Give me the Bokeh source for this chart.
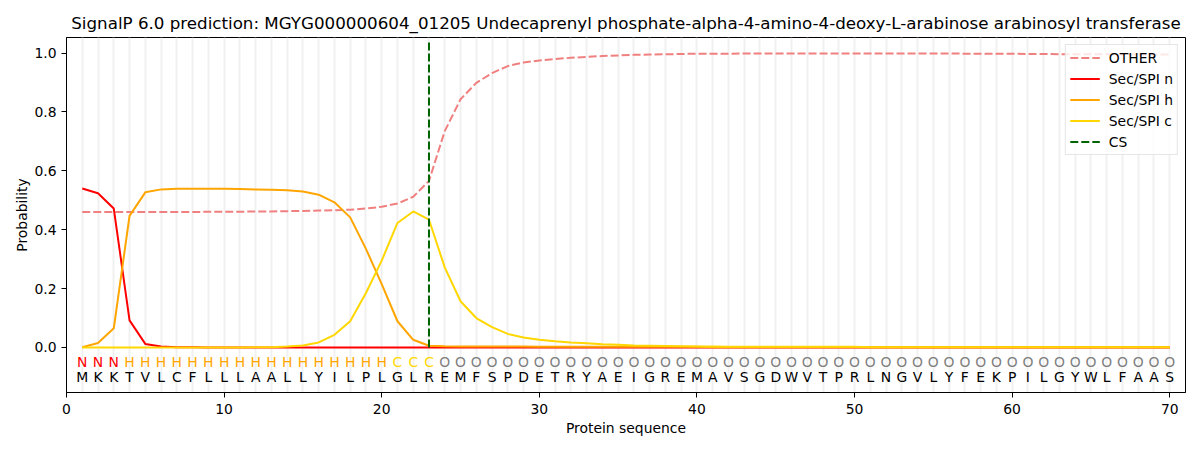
from bokeh.plotting import figure
from bokeh.models import ColumnDataSource, NumeralTickFormatter
from bokeh.core.properties import value
from bokeh.embed import file_html
from bokeh.resources import INLINE

# per-residue data
positions = list(range(1, 71))
sequence = list("MKKTVLCFLLLAALLYILPLGLREMFSPDETRYAEIGREMAVSGDWVTPRLNGVLYFEKPILGYWLFAAS")
region = list("NNN" + "H" * 17 + "CCC" + "O" * 47)

other = [0.460, 0.460, 0.460, 0.460, 0.460, 0.460, 0.460, 0.460, 0.461, 0.461,
         0.461, 0.462, 0.462, 0.463, 0.464, 0.465, 0.466, 0.468, 0.472, 0.478,
         0.489, 0.512, 0.566, 0.735, 0.843, 0.899, 0.932, 0.956, 0.968, 0.975,
         0.980, 0.984, 0.987, 0.990, 0.992, 0.994, 0.995, 0.996, 0.997, 0.998,
         0.998, 0.998, 0.999, 0.999, 0.999, 0.999, 0.999, 0.999, 0.999, 0.999,
         0.999, 0.999, 0.999, 0.999, 0.999, 0.999, 0.998, 0.998, 0.998, 0.998,
         0.997, 0.997, 0.996, 0.996, 0.996, 0.996, 0.995, 0.995, 0.995, 0.995]
sp_n = [0.540, 0.524, 0.472, 0.092, 0.012, 0.003, 0.001, 0.001] + [0.0] * 62
sp_h = [0.001, 0.015, 0.065, 0.447, 0.527, 0.537, 0.539, 0.539, 0.539, 0.539,
        0.538, 0.537, 0.536, 0.534, 0.530, 0.519, 0.493, 0.442, 0.335, 0.215,
        0.089, 0.026, 0.006, 0.004, 0.003, 0.003, 0.003, 0.003, 0.003, 0.002,
        0.002, 0.002, 0.002, 0.002, 0.002, 0.002, 0.002, 0.002, 0.002, 0.002,
        0.001, 0.001, 0.001, 0.001, 0.001, 0.001, 0.001, 0.001, 0.001, 0.001,
        0.001, 0.001, 0.001, 0.001, 0.001, 0.001, 0.001, 0.001, 0.001, 0.001,
        0.001, 0.001, 0.001, 0.001, 0.001, 0.001, 0.001, 0.001, 0.001, 0.001]
sp_c = [0.0, 0.0, 0.0, 0.0, 0.0, 0.0, 0.0, 0.0, 0.0, 0.0,
        0.0, 0.001, 0.001, 0.003, 0.007, 0.017, 0.043, 0.089, 0.185, 0.295,
        0.423, 0.462, 0.434, 0.272, 0.157, 0.100, 0.069, 0.046, 0.034, 0.026,
        0.021, 0.017, 0.014, 0.011, 0.009, 0.007, 0.006, 0.005, 0.004, 0.003,
        0.003, 0.002, 0.002, 0.002, 0.002, 0.002, 0.002, 0.002, 0.002, 0.002,
        0.001, 0.001, 0.001, 0.001, 0.001, 0.001, 0.001, 0.001, 0.001, 0.001,
        0.001, 0.001, 0.001, 0.001, 0.001, 0.001, 0.001, 0.001, 0.001, 0.001]
cs_pos = 23
cs_top = 1.04

region_colors = {"N": "red", "H": "orange", "C": "gold", "O": "grey"}

font = "DejaVu Sans"
p = figure(width=1192, height=442, x_range=(0, 71), y_range=(-0.153, 1.053),
           title="SignalP 6.0 prediction: MGYG000000604_01205 Undecaprenyl phosphate-alpha-4-amino-4-deoxy-L-arabinose arabinosyl transferase",
           x_axis_label="Protein sequence", y_axis_label="Probability",
           output_backend="svg", toolbar_location=None,
           min_border_left=66, min_border_right=7, min_border_top=37, min_border_bottom=50)

p.title.align = "center"
p.title.text_font = font
p.title.text_font_size = "16.7px"
p.title.text_font_style = "normal"
p.title.text_color = "black"

p.outline_line_color = "black"
p.outline_line_width = 1
p.ygrid.grid_line_color = None
p.xgrid.ticker = positions
p.xgrid.grid_line_color = "#f0f0f0"
p.xgrid.grid_line_width = 2

p.xaxis.ticker = list(range(0, 71, 10))
p.yaxis.ticker = [0.0, 0.2, 0.4, 0.6, 0.8, 1.0]
p.yaxis.formatter = NumeralTickFormatter(format="0.0")
for ax in p.axis:
    ax.major_label_text_font = font
    ax.major_label_text_font_size = "13.9px"
    ax.major_label_text_color = "black"
    ax.axis_label_text_font = font
    ax.axis_label_text_font_size = "13.9px"
    ax.axis_label_text_font_style = "normal"
    ax.axis_label_text_color = "black"
    ax.axis_line_color = "black"
    ax.major_tick_line_color = "black"
    ax.major_tick_in = 0
    ax.major_tick_out = 5
    ax.minor_tick_in = 0
    ax.minor_tick_out = 0
p.xaxis.major_label_standoff = 6
p.xaxis.axis_label_standoff = 3
p.yaxis.axis_label_standoff = 1

p.line(positions, other, color="lightcoral", line_width=2, line_dash="8 3", legend_label="OTHER")
p.line(positions, sp_n, color="red", line_width=2, legend_label="Sec/SPI n")
p.line(positions, sp_h, color="orange", line_width=2, legend_label="Sec/SPI h")
p.line(positions, sp_c, color="gold", line_width=2, legend_label="Sec/SPI c")
p.segment(x0=[cs_pos], y0=[0], x1=[cs_pos], y1=[cs_top], color="darkgreen",
          line_width=2, line_dash="8 3", legend_label="CS")

letters = ColumnDataSource(dict(
    x=positions,
    region=region,
    seq=sequence,
    rcolor=[region_colors[r] for r in region],
))
p.text(x="x", y=-0.05, text="region", source=letters, text_color="rcolor",
       text_font=value(font), text_font_size="13.9px",
       text_align="center", text_baseline="middle")
p.text(x="x", y=-0.10, text="seq", source=letters, text_color="black",
       text_font=value(font), text_font_size="13.9px",
       text_align="center", text_baseline="middle")

p.legend.location = "top_right"
p.legend.margin = 7
p.legend.padding = 4
p.legend.spacing = 4
p.legend.glyph_width = 30
p.legend.glyph_height = 17
p.legend.label_height = 17
p.legend.label_standoff = 9
p.legend.label_text_font = font
p.legend.label_text_font_size = "13.9px"
p.legend.label_text_color = "black"
p.legend.border_line_color = "#cccccc"
p.legend.background_fill_alpha = 0.8

open("out.html", "w").write(file_html(p, INLINE))
